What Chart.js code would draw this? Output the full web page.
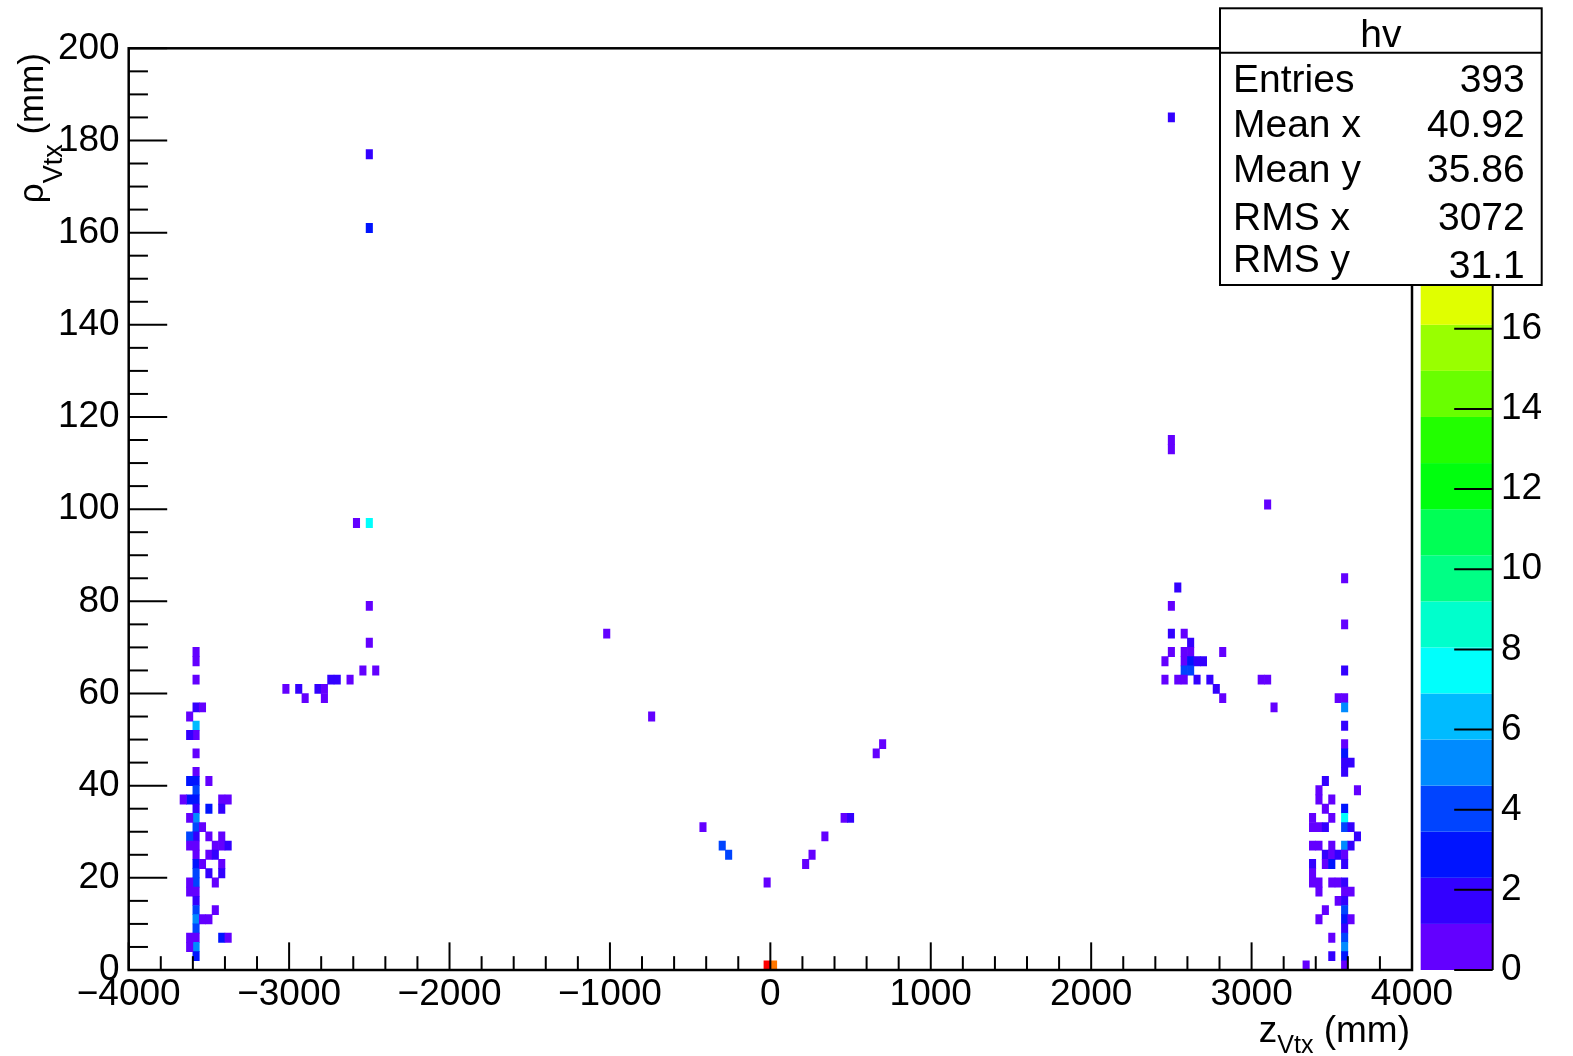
<!DOCTYPE html>
<html>
<head>
<meta charset="utf-8">
<script src="https://cdn.jsdelivr.net/npm/chart.js@4.4.0/dist/chart.umd.min.js"></script>
<style>
html,body{margin:0;padding:0;background:#fff;}
canvas{display:block;}
</style>
</head>
<body>
<canvas id="c" width="1573" height="1056"></canvas>
<script>
// ====== Binning of hv (200 x 100 bins) ======
const zMin = -4000, zMax = 4000, zBinW = 40;
const rhoMin = 0, rhoMax = 200, rhoBinW = 2;

// ====== Filled bins: [z bin, rho bin, hits] ======
const leftCluster = [
  [10,34,1],[10,33,1],[10,31,1],[10,28,2],[10,26,6],[10,25,1],[10,23,1],[10,21,1],[10,20,3],[10,19,4],
  [10,18,3],[10,17,2],[10,16,5],[10,15,4],[10,14,2],[10,13,1],[10,12,1],[10,11,3],[10,10,4],[10,9,4],
  [10,8,1],[10,7,2],[10,6,4],[10,5,5],[10,4,4],[10,3,1],[10,2,5],[10,1,3],
  [9,27,1],[9,25,2],[9,20,3],[9,18,3],[9,16,1],[9,14,4],[9,13,1],[9,9,1],[9,8,1],[9,3,1],[9,2,1],
  [8,18,1],
  [11,28,1],[11,15,1],[11,11,1],[11,5,1],
  [12,20,1],[12,17,3],[12,14,1],[12,12,1],[12,10,2],[12,5,1],
  [13,13,1],[13,12,2],[13,9,1],[13,6,1],
  [14,18,1],[14,17,2],[14,14,1],[14,13,1],[14,11,1],[14,10,2],[14,3,3],
  [15,18,1],[15,13,2],[15,3,1]
];
const leftArm = [
  [24,30,1],[26,30,2],[27,29,1],[29,30,2],[30,30,1],[30,29,1],[31,31,2],[32,31,2],[34,31,1],
  [36,32,1],[38,32,1],[37,35,1],[37,39,1],[35,48,1],[37,48,7],[37,80,3],[37,88,2]
];
const centre = [
  [74,36,1],[81,27,1],[89,15,1],[92,13,4],[93,12,4],[99,9,1],[99,0,23],[100,0,20],
  [105,11,1],[106,12,1],[108,14,1],[111,16,1],[112,16,2],[116,23,1],[117,24,1]
];
const rightArm = [
  [162,92,2],[162,57,1],[162,56,1],[177,50,1],
  [163,41,2],[162,39,1],[162,36,2],[164,36,1],[165,35,2],[162,34,1],[164,34,1],[165,34,1],[170,34,1],
  [161,33,1],[164,33,1],[165,33,3],[166,33,2],[167,33,2],[164,32,4],[165,32,4],
  [161,31,1],[163,31,1],[164,31,1],[166,31,2],[168,31,2],[176,31,1],[177,31,1],
  [169,30,2],[170,29,1],[178,28,1]
];
const rightCluster = [
  [189,42,1],[189,37,1],[189,32,2],[188,29,1],[189,29,1],[189,28,5],[189,26,2],[189,24,1],[189,23,3],
  [189,22,2],[190,22,2],[189,21,2],[186,20,2],[185,19,1],[191,19,1],[185,18,1],[187,18,1],
  [186,17,1],[189,17,3],[184,16,1],[187,16,1],[189,16,7],
  [184,15,1],[185,15,1],[186,15,2],[189,15,4],[190,15,2],[191,14,2],
  [184,13,1],[185,13,1],[187,13,1],[189,13,5],[190,13,2],
  [186,12,2],[187,12,1],[188,12,2],[189,12,1],[184,11,2],[186,11,1],[187,11,3],[189,11,2],
  [184,10,1],[184,9,1],[185,9,1],[187,9,1],[188,9,1],[189,9,2],[185,8,1],[189,8,1],[190,8,1],
  [188,7,1],[189,7,2],[186,6,1],[189,6,4],[185,5,1],[189,5,3],[190,5,1],[189,4,2],
  [187,3,1],[189,3,4],[189,2,5],[187,1,2],[189,1,3],[183,0,1],[189,0,1]
];

// ====== Axes ======
const zMajor = 1000, zMinor = 200;
const rhoMajor = 20, rhoMinor = 5;
const paletteMax = 23, paletteLevels = 20, paletteStep = 2;

// ====== Stats box ======
const statTitle = 'hv';
const statNames = ['Entries', 'Mean x', 'Mean y', 'RMS x', 'RMS y'];
const statValues = ['393', '40.92', '35.86', '3072', '31.1'];

const FONT = '"Liberation Sans", Arial, Helvetica, sans-serif';

// ROOT "pretty palette" (HLS violet -> red, 50 colours) picked for 20 contours
function levelColor(k){
  const idx = Math.floor((k + 0.99) * 50 / paletteLevels);
  const hue = 280 - (idx + 1) * 280 / 50;
  return `hsl(${hue},100%,50%)`;
}
function hitColor(v){ return levelColor(Math.min(paletteLevels - 1, Math.floor(v * paletteLevels / paletteMax))); }

const bins = [].concat(leftCluster, leftArm, centre, rightArm, rightCluster).map(([i, j, v]) => ({
  x: zMin + (i + 0.5) * zBinW,
  y: [rhoMin + j * rhoBinW, rhoMin + (j + 1) * rhoBinW],
  v
}));

function minus(v){ return String(v).replace('-', '\u2212'); }
function line(ctx, x1, y1, x2, y2){ ctx.beginPath(); ctx.moveTo(x1, y1); ctx.lineTo(x2, y2); ctx.stroke(); }
// fixed box size, no extra label padding pushed into the layout
function fixBox(prop, size){
  return s => { s[prop] = size; s.paddingTop = s.paddingBottom = s.paddingLeft = s.paddingRight = 0; };
}

// text made of [string, size, baseline shift] pieces, ending at endX
function drawParts(ctx, parts, endX, baseY){
  let w = 0;
  parts.forEach(p => { ctx.font = `${p[1]}px ${FONT}`; w += ctx.measureText(p[0]).width; });
  let cx = endX - w;
  parts.forEach(p => {
    ctx.font = `${p[1]}px ${FONT}`;
    ctx.fillText(p[0], cx, baseY + p[2]);
    cx += ctx.measureText(p[0]).width;
  });
}

const rootDecor = {
  id: 'rootDecor',
  afterDraw(chart){
    const {ctx, chartArea: a, scales: {x, y, z}} = chart;
    ctx.save();
    // palette
    const pl = a.right + 8.7, pw = 72;
    for(let k = 0; k < paletteLevels; k++){
      const y0 = z.getPixelForValue(k * paletteMax / paletteLevels);
      const y1 = z.getPixelForValue((k + 1) * paletteMax / paletteLevels);
      ctx.fillStyle = levelColor(k);
      ctx.fillRect(pl, y1, pw, y0 - y1);
    }
    ctx.strokeStyle = '#000'; ctx.lineWidth = 2;
    line(ctx, pl + pw, a.top, pl + pw, a.bottom);
    const tl = 0.03 * (a.right - a.left), th = 0.03 * (a.bottom - a.top);
    z.ticks.forEach(t => { const py = z.getPixelForValue(t.value); line(ctx, pl + pw - tl, py, pl + pw, py); });

    // frame ticks
    for(let v = zMin; v <= zMax; v += zMinor){
      const px = x.getPixelForValue(v);
      line(ctx, px, a.bottom, px, a.bottom - (v % zMajor === 0 ? th : th / 2));
    }
    for(let v = rhoMin; v <= rhoMax; v += rhoMinor){
      const py = y.getPixelForValue(v);
      line(ctx, a.left, py, a.left + (v % rhoMajor === 0 ? tl : tl / 2), py);
    }
    ctx.lineWidth = 2.5;
    ctx.strokeRect(a.left, a.top, a.right - a.left, a.bottom - a.top);

    // axis titles
    ctx.fillStyle = '#000'; ctx.textAlign = 'left'; ctx.textBaseline = 'alphabetic';
    drawParts(ctx, [['z', 37, 0], ['Vtx', 25, 11], [' (mm)', 37, 0]], a.right - 2, 1041.7);
    ctx.save();
    ctx.translate(43, a.top + 4.7);
    ctx.rotate(-Math.PI / 2);
    drawParts(ctx, [['\u03c1', 35, 0], ['Vtx', 27, 19], [' (mm)', 35, 0]], 0, 0);
    ctx.restore();

    // stats box
    const bx = 1220, by = 8.3, bw = 321.7, bh = 276.7, hh = 44.4;
    ctx.fillStyle = '#fff'; ctx.fillRect(bx, by, bw, bh);
    ctx.lineWidth = 2; ctx.strokeRect(bx, by, bw, bh);
    line(ctx, bx, by + hh, bx + bw, by + hh);
    ctx.fillStyle = '#000';
    ctx.font = `39px ${FONT}`;
    ctx.textAlign = 'center';
    ctx.fillText(statTitle, bx + bw / 2, 46.7);
    const nameBase = [91.7, 137.3, 181.7, 230, 271.7];
    const valBase = [91.7, 137.3, 181.7, 230, 278.3];
    statNames.forEach((n, i) => {
      ctx.textAlign = 'left'; ctx.fillText(n, bx + 13, nameBase[i]);
      ctx.textAlign = 'right'; ctx.fillText(statValues[i], bx + bw - 17, valBase[i]);
    });
    ctx.restore();
  }
};

const tickFont = {family: FONT, size: 37};

new Chart(document.getElementById('c'), {
  type: 'bar',
  data: {
    datasets: [{
      data: bins,
      xAxisID: 'x', yAxisID: 'y',
      backgroundColor: c => c.raw ? hitColor(c.raw.v) : '#000',
      borderWidth: 0,
      barPercentage: 1,
      categoryPercentage: 1
    }]
  },
  options: {
    responsive: false,
    devicePixelRatio: 1,
    animation: false,
    events: [],
    layout: {padding: {top: 48.3, left: 0, right: 0, bottom: 0}},
    plugins: {legend: {display: false}, tooltip: {enabled: false}},
    scales: {
      x: {
        type: 'linear', position: 'bottom', min: zMin, max: zMax, offset: false,
        grid: {display: false, drawTicks: false}, border: {display: false},
        ticks: {stepSize: zMajor, autoSkip: false, maxRotation: 0, padding: 3, color: '#000', font: tickFont, callback: v => minus(v)},
        afterFit: fixBox('height', 86)
      },
      y: {
        type: 'linear', position: 'left', min: rhoMin, max: rhoMax,
        grid: {display: false, drawTicks: false}, border: {display: false},
        ticks: {stepSize: rhoMajor, padding: 9, color: '#000', font: tickFont, callback: v => minus(v)},
        afterFit: fixBox('width', 128.7)
      },
      z: {
        axis: 'y', type: 'linear', position: 'right', min: 0, max: paletteMax,
        grid: {display: false, drawTicks: false}, border: {display: false},
        ticks: {stepSize: paletteStep, includeBounds: false, padding: 89, color: '#000', font: tickFont},
        afterFit: fixBox('width', 161)
      }
    }
  },
  plugins: [rootDecor]
});
</script>
</body>
</html>
